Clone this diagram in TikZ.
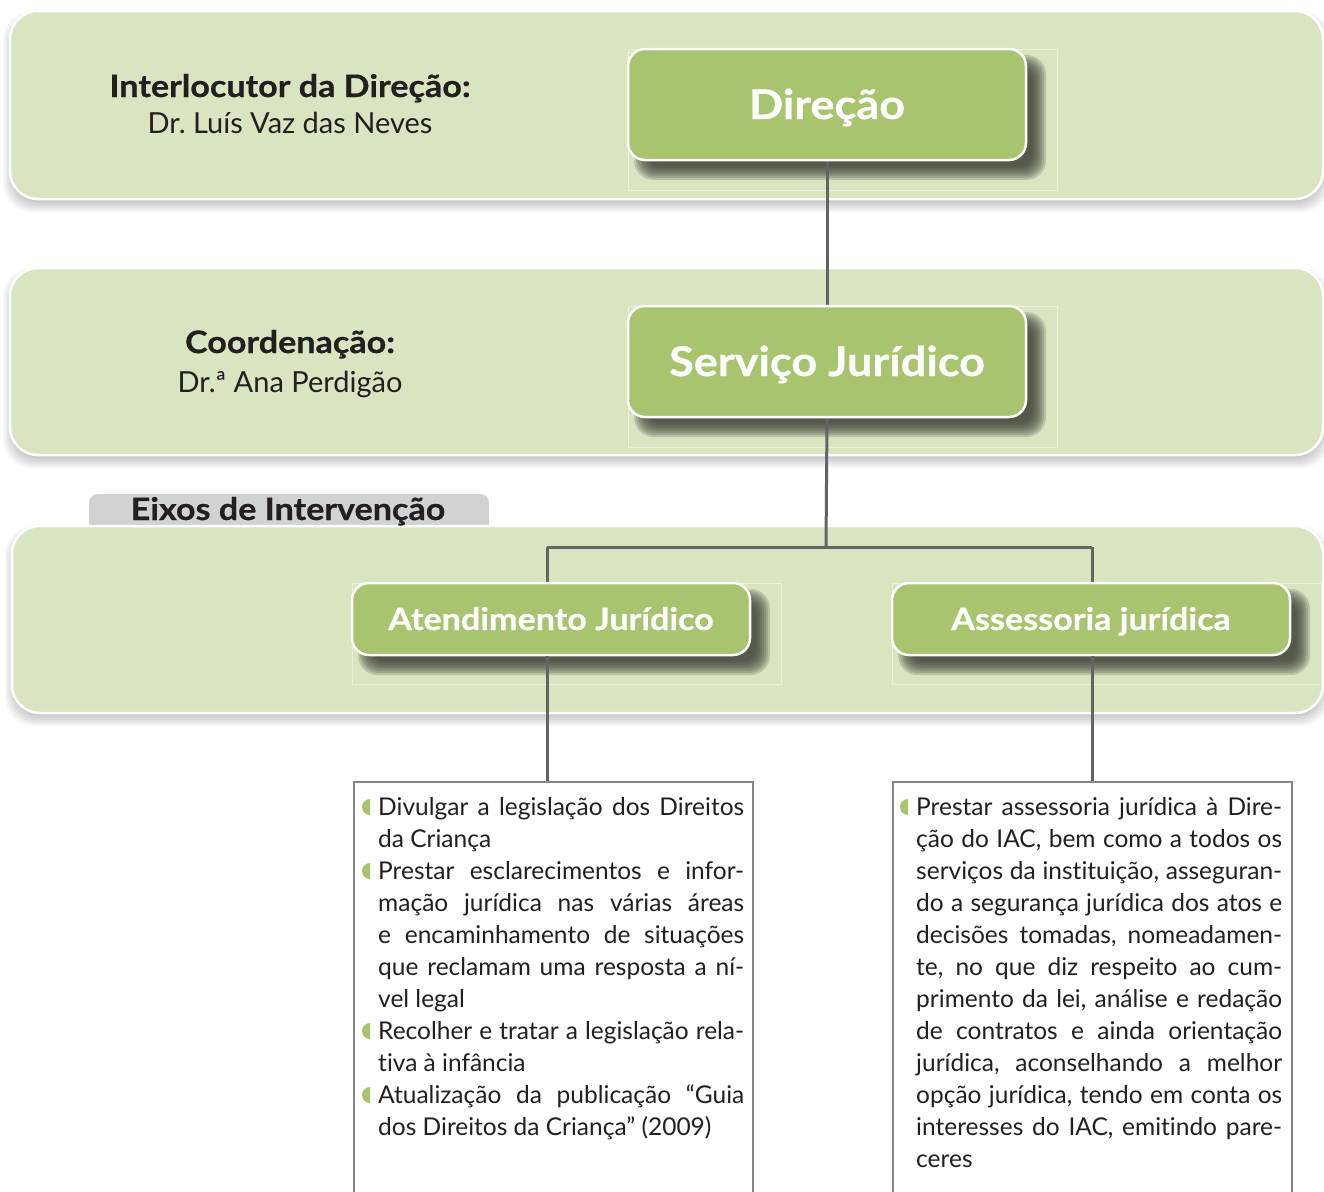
\documentclass[tikz,border=0pt]{standalone}
\usepackage{fontspec}
\setmainfont{Lato}[Ligatures={NoCommon}, BoldFeatures={FakeStretch=1.1, FakeBold=0.6}]
\definecolor{bandc}{HTML}{D9E4C1}
\definecolor{boxg}{HTML}{A9C46F}
\definecolor{connc}{HTML}{636466}
\definecolor{tabc}{HTML}{D1D2D4}
\definecolor{txtc}{HTML}{231F20}
\definecolor{tboxc}{HTML}{858688}
\definecolor{shadc}{HTML}{3A4035}
\pgfdeclarelayer{bg}
\pgfsetlayers{bg,main}
\newcommand\softshadow[7]{%
  \foreach \k in {0,...,7}{%
    \pgfmathsetmacro\sa{7-2*\k}%
    \pgfmathsetmacro\rr{#6+3.5-\k}%
    \fill[#5, fill opacity=#7, rounded corners=\rr pt] ({#1-(\sa)},{#2-(\sa)}) rectangle ({#3+(\sa)},{#4+(\sa)});
  }%
}
\newcommand\J[1]{\makebox[366pt][s]{#1}}
\tikzset{
 bandsty/.style={fill=bandc, draw=white, line width=2.5pt, rounded corners=28pt},
 gbox/.style={draw=white, line width=2.5pt, fill=boxg, rounded corners=17pt, text=white, inner sep=0pt,
   font=\bfseries\fontsize{41}{41}\selectfont, minimum width=398pt, minimum height=111pt,
   text height=29pt, text depth=0pt},
 gboxs/.style={gbox, minimum height=72pt, font=\bfseries\fontsize{31}{31}\selectfont, text height=22pt},
 conn/.style={draw=connc, line width=3pt},
 tbox/.style={draw=tboxc, line width=1.5pt, fill=white, minimum width=399pt, minimum height=440pt,
   anchor=north west, inner sep=0pt},
 faint/.style={draw=white, draw opacity=0.45, line width=0.6pt},
 lab/.style={text=txtc, anchor=base, inner sep=0pt},
 bodytxt/.style={text=txtc, anchor=base west, inner sep=0pt},
 bullet/.pic={\fill[boxg] (0,0) -- (0,-16) arc[start angle=90, end angle=270, radius=8pt] -- cycle;}
}
\begin{document}
\frenchspacing
\begin{tikzpicture}[x=1pt,y=-1pt]
\useasboundingbox (0,0) rectangle (1324,1191);
\begin{pgfonlayer}{bg}
\fill[white] (0,0) rectangle (1324,1191);
% bands
\softshadow{10}{18}{1323}{205}{black}{26}{0.035}
\path[bandsty] (10,11) rectangle (1323,199);
\softshadow{10}{275}{1323}{461}{black}{26}{0.035}
\path[bandsty] (10,268) rectangle (1323,455);
\fill[tabc, rounded corners=9pt] (89,494) rectangle (489,532);
\softshadow{12}{533}{1323}{719}{black}{26}{0.035}
\path[bandsty] (12,526) rectangle (1323,713);
% faint frames
\draw[faint] (628,49) rectangle (1057,190);
\draw[faint] (628,306) rectangle (1057,447);
\draw[faint] (352,583) rectangle (781,684);
\draw[faint] (892,583) rectangle (1321,684);
% box shadows
\softshadow{641}{62}{1039}{173}{shadc}{16}{0.2}
\softshadow{641}{319}{1039}{430}{shadc}{16}{0.2}
\softshadow{365}{596}{763}{668}{shadc}{16}{0.2}
\softshadow{905}{596}{1303}{668}{shadc}{16}{0.2}
\end{pgfonlayer}

% green boxes
\node[gbox] (dir) at (827,104.5) {Direção};
\node[gbox] (serv) at (827,361.5) {Serviço Jurídico};
\node[gboxs] (atend) at (551,619) {Atendimento Jurídico};
\node[gboxs] (assess) at (1091,619) {Assessoria jurídica};

% connectors
\coordinate (jm) at (826,547);
\coordinate (jl) at (547,547);
\coordinate (jr) at (1092,547);
\begin{pgfonlayer}{bg}
\draw[conn] (dir.south) -- (serv.north);
\draw[conn] (serv.south) -- (jm);
\draw[conn] (jl) -- (jr);
\draw[conn] (jl) -- (jl |- atend.north);
\draw[conn] (jr) -- (jr |- assess.north);
\end{pgfonlayer}

% text boxes
\node[tbox] (tb1) at (353,781) {};
\node[tbox] (tb2) at (892,781) {};
\draw[conn] (jl |- atend.south) -- (jl |- tb1.north);
\draw[conn] (jr |- assess.south) -- (jr |- tb2.north);

% left labels
\node[lab, font=\bfseries\fontsize{31}{31}\selectfont] (l1a) at (290,97) {Interlocutor da Direção:};
\node[lab, font=\fontsize{29}{29}\selectfont] (l1b) at (290,133) {Dr. Luís Vaz das Neves};
\node[lab, font=\bfseries\fontsize{31}{31}\selectfont] (l2a) at (290,353) {Coordenação:};
\node[lab, font=\fontsize{29}{29}\selectfont] (l2b) at (290,392) {Dr.ª Ana Perdigão};
\node[lab, font=\bfseries\fontsize{31}{31}\selectfont] (eixos) at (288,520) {Eixos de Intervenção};

% bullets
\pic at (370,815) {bullet};
\pic at (370,879) {bullet};
\pic at (370,1039) {bullet};
\pic at (370,1103) {bullet};
\pic at (908,815) {bullet};

% body texts
\node[bodytxt] (t1) at (378,815) {\parbox[t]{366pt}{\fontsize{24.5}{32}\selectfont\noindent
\J{Divulgar a legislação dos Direitos}\\
da Criança\\
\J{Prestar esclarecimentos e infor-}\\
\J{mação jurídica nas várias áreas}\\
\J{e encaminhamento de situações}\\
\J{que reclamam uma resposta a ní-}\\
vel legal\\
\J{Recolher e tratar a legislação rela-}\\
tiva à infância\\
\J{Atualização da publicação “Guia}\\
dos Direitos da Criança” (2009)}};
\node[bodytxt] (t2) at (916,815) {\parbox[t]{366pt}{\fontsize{24.5}{32}\selectfont\noindent
\J{Prestar assessoria jurídica à Dire-}\\
\J{ção do IAC, bem como a todos os}\\
\J{serviços da instituição, asseguran-}\\
\J{do a segurança jurídica dos atos e}\\
\J{decisões tomadas, nomeadamen-}\\
\J{te, no que diz respeito ao cum-}\\
\J{primento da lei, análise e redação}\\
\J{de contratos e ainda orientação}\\
\J{jurídica, aconselhando a melhor}\\
\J{opção jurídica, tendo em conta os}\\
\J{interesses do IAC, emitindo pare-}\\
ceres}};
\end{tikzpicture}
\end{document}
